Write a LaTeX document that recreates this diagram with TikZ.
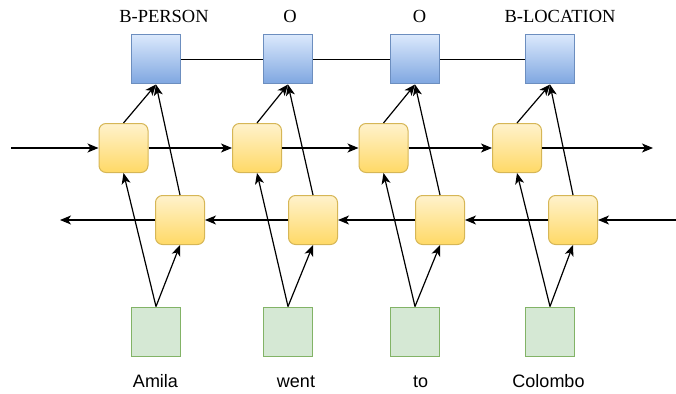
\documentclass[tikz,border=0pt]{standalone}
\usepackage{fontspec}
\setmainfont{Liberation Serif}
\setsansfont{Liberation Sans}
\usetikzlibrary{arrows.meta}
\definecolor{tagfill}{HTML}{DAE8FC}
\definecolor{tagfillb}{HTML}{7EA6E0}
\definecolor{tagline}{HTML}{6C8EBF}
\definecolor{cellfill}{HTML}{FFF2CC}
\definecolor{cellfillb}{HTML}{FFD966}
\definecolor{cellline}{HTML}{D6B656}
\definecolor{wordfill}{HTML}{D5E8D4}
\definecolor{wordline}{HTML}{82B366}
\tikzset{
  tagbox/.style={draw=tagline, line width=1pt, top color=tagfill, bottom color=tagfillb,
    minimum width=49pt, minimum height=49pt, inner sep=0pt},
  cellbox/.style={draw=cellline, line width=1pt, top color=cellfill, bottom color=cellfillb,
    rounded corners=7pt, minimum width=49pt, minimum height=49pt, inner sep=0pt},
  wordbox/.style={draw=wordline, line width=1pt, fill=wordfill,
    minimum width=49pt, minimum height=49pt, inner sep=0pt},
  taglabel/.style={font=\rmfamily\fontsize{18.5}{18.5}\selectfont, inner sep=0pt},
  wordlabel/.style={font=\sffamily\fontsize{18}{18}\selectfont, inner sep=0pt},
  conn/.style={line width=1.2pt, -{Stealth[length=11pt,width=9pt,inset=3pt]}},
  plain/.style={line width=1.2pt}
}
\begin{document}
\begin{tikzpicture}[x=1pt,y=-1pt]
\useasboundingbox (0,0) rectangle (676,393);

% output tags
\node[tagbox] (t1) at (156,59.5) {};
\node[tagbox] (t2) at (288,59.5) {};
\node[tagbox] (t3) at (415,59.5) {};
\node[tagbox] (t4) at (550,59.5) {};
\node[taglabel] (l1) at (164,16) {B-PERSON};
\node[taglabel] (l2) at (290,16) {O};
\node[taglabel] (l3) at (419.5,16) {O};
\node[taglabel] (l4) at (560,16) {B-LOCATION};

% forward cells
\node[cellbox] (f1) at (123.5,148) {};
\node[cellbox] (f2) at (257,148) {};
\node[cellbox] (f3) at (383.5,148) {};
\node[cellbox] (f4) at (517,148) {};

% backward cells
\node[cellbox] (b1) at (180,220) {};
\node[cellbox] (b2) at (313,220) {};
\node[cellbox] (b3) at (440,220) {};
\node[cellbox] (b4) at (573,220) {};

% input words
\node[wordbox] (w1) at (156,331.5) {};
\node[wordbox] (w2) at (288,331.5) {};
\node[wordbox] (w3) at (415,331.5) {};
\node[wordbox] (w4) at (550,331.5) {};
\node[wordlabel, anchor=base] (a1) at (155.5,387) {Amila};
\node[wordlabel, anchor=base] (a2) at (296,387) {went};
\node[wordlabel, anchor=base] (a3) at (420.5,387) {to};
\node[wordlabel, anchor=base] (a4) at (548.5,387) {Colombo};

% free ends of the recurrent chains
\coordinate (fin) at (11,148);
\coordinate (fout) at (653,148);
\coordinate (bin) at (676,220);
\coordinate (bout) at (60,220);

% line joining the tags
\draw[plain] (t1) -- (t2) -- (t3) -- (t4);

% forward chain
\draw[conn] (fin) -- (f1);
\draw[conn] (f1) -- (f2);
\draw[conn] (f2) -- (f3);
\draw[conn] (f3) -- (f4);
\draw[conn] (f4) -- (fout);

% backward chain
\draw[conn] (bin) -- (b4);
\draw[conn] (b4) -- (b3);
\draw[conn] (b3) -- (b2);
\draw[conn] (b2) -- (b1);
\draw[conn] (b1) -- (bout);

% inputs into both directions, both directions into tags
\foreach \i in {1,2,3,4}{
  \draw[conn] (w\i.north) -- (f\i.south);
  \draw[conn] (w\i.north) -- (b\i.south);
  \draw[conn] (f\i.north) -- (t\i.south);
  \draw[conn] (b\i.north) -- (t\i.south);
}
\end{tikzpicture}
\end{document}
